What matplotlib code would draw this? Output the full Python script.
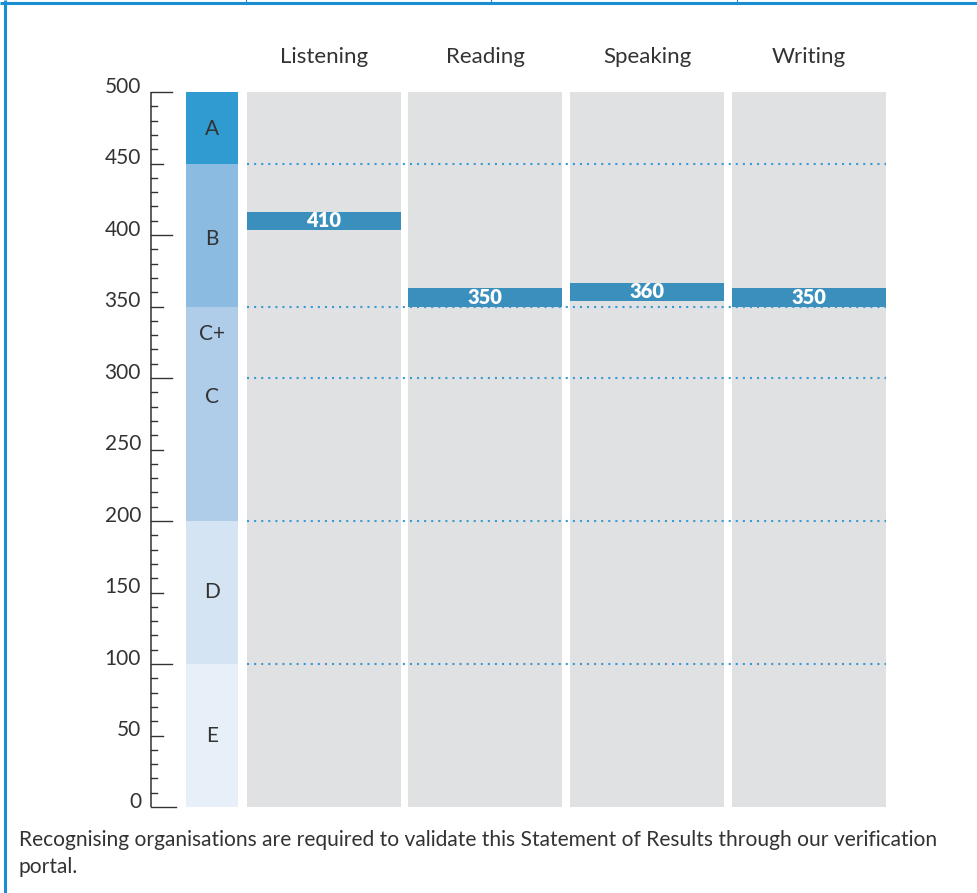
import matplotlib
matplotlib.use("Agg")
import matplotlib.pyplot as plt
import numpy as np

plt.rcParams["font.family"] = ["Lato", "DejaVu Sans"]

# grade bands on the 0-500 scale
band_lower = [450, 350, 200, 100, 0]
band_upper = [500, 450, 350, 200, 100]
band_colors = ["#2F9BD0", "#8BBBE0", "#AFCDE8", "#D4E4F2", "#E7F0F8"]

grade_labels = ["A", "B", "C+", "C", "D", "E"]
grade_label_y = [474, 397, 331, 287, 150, 50]

thresholds = [450, 350, 300, 200, 100]

skills = ["Listening", "Reading", "Speaking", "Writing"]
scores = [410, 350, 360, 350]

footer_lines = ["Recognising organisations are required to validate this Statement of Results through our verification",
                "portal."]

FIG_W, FIG_H = 978, 893
Y0_PX, Y500_PX = 807, 92
TEXT = "#333333"
BLUE = "#1B8ED1"
FS = 15

fig = plt.figure(figsize=(FIG_W / 100, FIG_H / 100), dpi=100)

# frame layer in pixel coordinates
frame = fig.add_axes([0, 0, 1, 1])
frame.set_xlim(0, FIG_W)
frame.set_ylim(FIG_H, 0)
frame.set_axis_off()
frame.plot([0, FIG_W], [2.5, 2.5], color=BLUE, lw=2.2, solid_capstyle="butt")
frame.plot([4.5, 4.5], [0, FIG_H], color=BLUE, lw=2.2, solid_capstyle="butt")
for xx in [246, 491, 737]:
    frame.plot([xx, xx], [0, 4], color=BLUE, lw=0.8)
for yy, line in zip([840, 867], footer_lines):
    frame.text(19, yy, line, ha="left", va="center", fontsize=15.1, color=TEXT)

# chart layer: x in pixels, y in score units
ax = fig.add_axes([0, (FIG_H - Y0_PX) / FIG_H, 1, (Y0_PX - Y500_PX) / FIG_H])
ax.set_xlim(0, FIG_W)
ax.set_ylim(0, 500)
ax.set_axis_off()

# ruler
ruler_x = 151
ax.plot([ruler_x, ruler_x], [0, 500], color=TEXT, lw=1.1, solid_capstyle="butt", clip_on=False)
for v in range(0, 501, 10):
    if v % 100 == 0:
        end = 172
    elif v % 50 == 0:
        end = 163
    else:
        end = 157
    if v == 0:
        end = 176
    ax.plot([ruler_x, end], [v, v], color=TEXT, lw=1.0, clip_on=False)
for v in range(0, 501, 50):
    ax.text(141, v + 3.5, str(v), ha="right", va="center", fontsize=FS, color=TEXT)

# grade band column
band_x, band_w = 186, 52
ax.bar([band_x] * len(band_lower), np.subtract(band_upper, band_lower),
       bottom=band_lower, width=band_w, align="edge", color=band_colors, lw=0)
for lab, yy in zip(grade_labels, grade_label_y):
    ax.text(band_x + band_w / 2, yy, lab, ha="center", va="center", fontsize=FS, color=TEXT)

# skill columns
col_x = [247, 408, 570, 732]
col_w = 154
ax.bar(col_x, [500] * len(col_x), width=col_w, align="edge", color="#E0E1E3", lw=0, zorder=1)
for x, name in zip(col_x, skills):
    ax.text(x + col_w / 2, 500 + 24.5, name, ha="center", va="center", fontsize=16,
            color=TEXT, clip_on=False)

ax.hlines(thresholds, col_x[0], col_x[-1] + col_w, colors="#3A9AD3", lw=1.5,
          linestyles=[(0, (1, 2.4))], zorder=2)

# score bars
bar_h = 12.6
for x, s in zip(col_x, scores):
    bottom = s - bar_h / 2
    for t in thresholds:
        if bottom < t < bottom + bar_h:
            bottom = t
    ax.bar(x, bar_h, bottom=bottom, width=col_w, align="edge", color="#3A8FBC", lw=0, zorder=3)
    ax.text(x + col_w / 2, bottom + bar_h / 2 + 0.3, str(s), ha="center", va="center",
            fontsize=14.5, fontweight="heavy", color="white", zorder=4)

fig.savefig("out.png", dpi=100)
